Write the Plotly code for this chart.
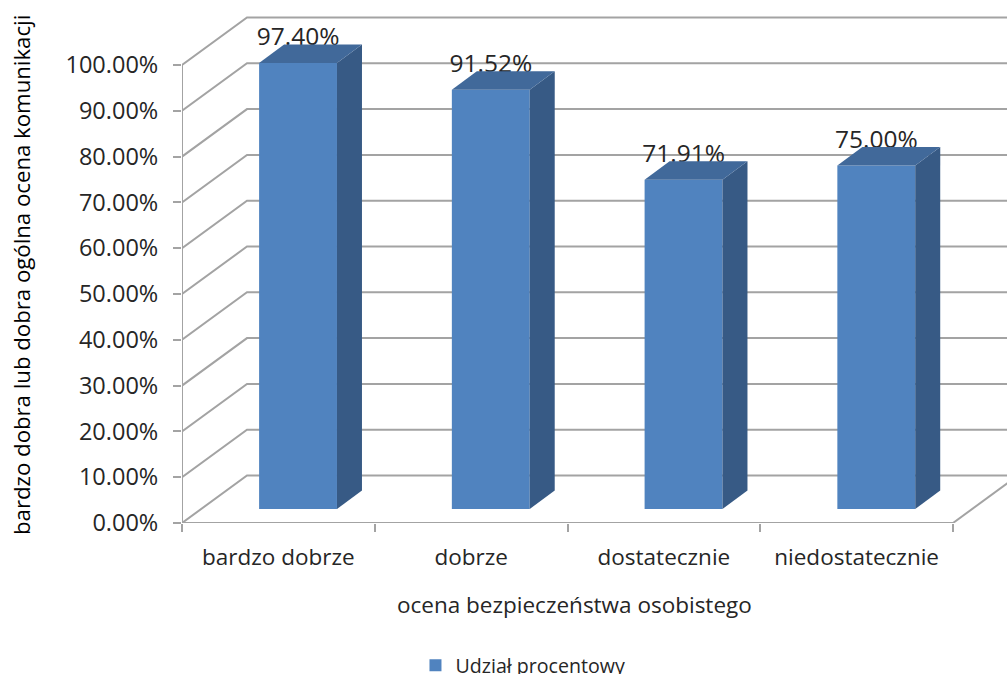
import plotly.graph_objects as go

# Survey results: share of respondents per safety rating
categories = ["bardzo dobrze", "dobrze", "dostatecznie", "niedostatecznie"]
values = [97.40, 91.52, 71.91, 75.00]
value_ticks = [0, 10, 20, 30, 40, 50, 60, 70, 80, 90, 100]
series_name = "Udział procentowy"
x_title = "ocena bezpieczeństwa osobistego"
y_title = "bardzo dobra lub dobra ogólna ocena komunikacji"

FONT = "Open Sans"
TEXT = "#262626"
GRID = "#a3a3a3"
FRONT = "#5083bf"
SIDE = "#375a85"
TOP = "#41699a"

WIDTH, HEIGHT = 1007, 674
LEFT, BOTTOM = 182, 151
UNIT_X = 192.75   # pixels per category
UNIT_Y = 4.58     # pixels per percentage point
X_RANGE = [0, (WIDTH - LEFT) / UNIT_X]
Y_RANGE = [0, (HEIGHT - BOTTOM) / UNIT_Y]

# Oblique projection: how far the walls and the bars recede, in axis units
WALL_DX, WALL_DY = 65 / UNIT_X, 47.5 / UNIT_Y
BAR_DX, BAR_DY = 25 / UNIT_X, 18.5 / UNIT_Y
BAR_BASE = 14 / UNIT_Y
BAR_WIDTH = 0.404
LABEL_LIFT = 24 / UNIT_Y

n = len(categories)
fig = go.Figure()


def line(xs, ys, clip=True):
    fig.add_trace(go.Scatter(
        x=xs, y=ys, mode="lines", line=dict(color=GRID, width=2),
        showlegend=False, hoverinfo="skip", cliponaxis=clip,
    ))


# Side and back wall gridlines, then floor and axis lines
for t in value_ticks:
    line([0, WALL_DX, n + WALL_DX], [t, t + WALL_DY, t + WALL_DY])
line([n, n + WALL_DX], [0, WALL_DY])
line([0, n], [0, 0], clip=False)
line([0, 0], [0, value_ticks[-1]], clip=False)

# Front faces
centers = [i + 0.602 for i in range(n)]
fig.add_trace(go.Bar(
    x=centers, y=values, base=BAR_BASE, width=BAR_WIDTH, name=series_name,
    marker=dict(color=FRONT, line=dict(width=0)),
    xaxis="x2", yaxis="y2", hoverinfo="skip",
))

# Value labels sit behind the top faces
fig.add_trace(go.Scatter(
    x=centers, y=[BAR_BASE + v + LABEL_LIFT for v in values],
    text=[f"{v:.2f}%" for v in values], mode="text",
    textposition="middle center",
    textfont=dict(family=FONT, size=24.5, color=TEXT),
    xaxis="x2", yaxis="y2", showlegend=False, hoverinfo="skip",
))

# Side and top faces of each bar
for c, v in zip(centers, values):
    x0, x1 = c - BAR_WIDTH / 2, c + BAR_WIDTH / 2
    y0, y1 = BAR_BASE, BAR_BASE + v
    fig.add_trace(go.Scatter(
        x=[x1, x1 + BAR_DX, x1 + BAR_DX, x1, x1],
        y=[y0, y0 + BAR_DY, y1 + BAR_DY, y1, y0],
        mode="lines", fill="toself", fillcolor=SIDE, line=dict(width=0),
        xaxis="x2", yaxis="y2", showlegend=False, hoverinfo="skip",
    ))
    fig.add_trace(go.Scatter(
        x=[x0, x1, x1 + BAR_DX, x0 + BAR_DX, x0],
        y=[y1, y1, y1 + BAR_DY, y1 + BAR_DY, y1],
        mode="lines", fill="toself", fillcolor=TOP, line=dict(width=0),
        xaxis="x2", yaxis="y2", showlegend=False, hoverinfo="skip",
    ))

value_font = dict(family=FONT, size=23.5, color=TEXT)
category_font = dict(family=FONT, size=22.5, color=TEXT)
y_title_font = dict(family=FONT, size=22.2, color="#000000")

fig.update_layout(
    width=WIDTH, height=HEIGHT,
    margin=dict(l=LEFT, r=0, t=0, b=BOTTOM, autoexpand=False),
    paper_bgcolor="white", plot_bgcolor="white",
    font=dict(family=FONT, color=TEXT),
    xaxis=dict(
        range=X_RANGE, tickmode="array", tickvals=list(range(n + 1)),
        ticktext=[""] * (n + 1), ticks="outside", ticklen=8, tickwidth=2,
        tickcolor=GRID, showgrid=False, zeroline=False, showline=False,
    ),
    yaxis=dict(
        range=Y_RANGE, tickmode="array", tickvals=value_ticks,
        ticktext=[f"{t:.2f}%" for t in value_ticks], ticks="outside",
        ticklen=8, tickwidth=2, tickcolor=GRID, tickfont=value_font,
        ticklabelstandoff=10,
        showgrid=False, zeroline=False, showline=False,
    ),
    xaxis2=dict(
        range=X_RANGE, overlaying="x", anchor="y2", side="bottom",
        tickmode="array", tickvals=[i + 0.5 for i in range(n)],
        ticktext=categories, ticks="outside", ticklen=14,
        tickcolor="rgba(0,0,0,0)", tickfont=category_font,
        showgrid=False, zeroline=False, showline=False,
    ),
    yaxis2=dict(range=Y_RANGE, overlaying="y", anchor="x2", visible=False),
    showlegend=True,
    legend=dict(
        orientation="h", x=0.283, xanchor="left", y=-0.31, yanchor="bottom",
        font=dict(family=FONT, size=19.6, color=TEXT),
        bgcolor="rgba(0,0,0,0)",
    ),
    annotations=[
        dict(text=x_title, xref="paper", yref="paper", x=(574 - LEFT) / (WIDTH - LEFT),
             y=(HEIGHT - BOTTOM - 604) / (HEIGHT - BOTTOM), xanchor="center", yanchor="middle",
             showarrow=False, font=category_font),
        dict(text=y_title, xref="paper", yref="paper", x=(21 - LEFT) / (WIDTH - LEFT),
             y=(HEIGHT - BOTTOM - 275) / (HEIGHT - BOTTOM), xanchor="center", yanchor="middle",
             textangle=-90, showarrow=False, font=y_title_font),
    ],
)

fig.write_html("out.html")
